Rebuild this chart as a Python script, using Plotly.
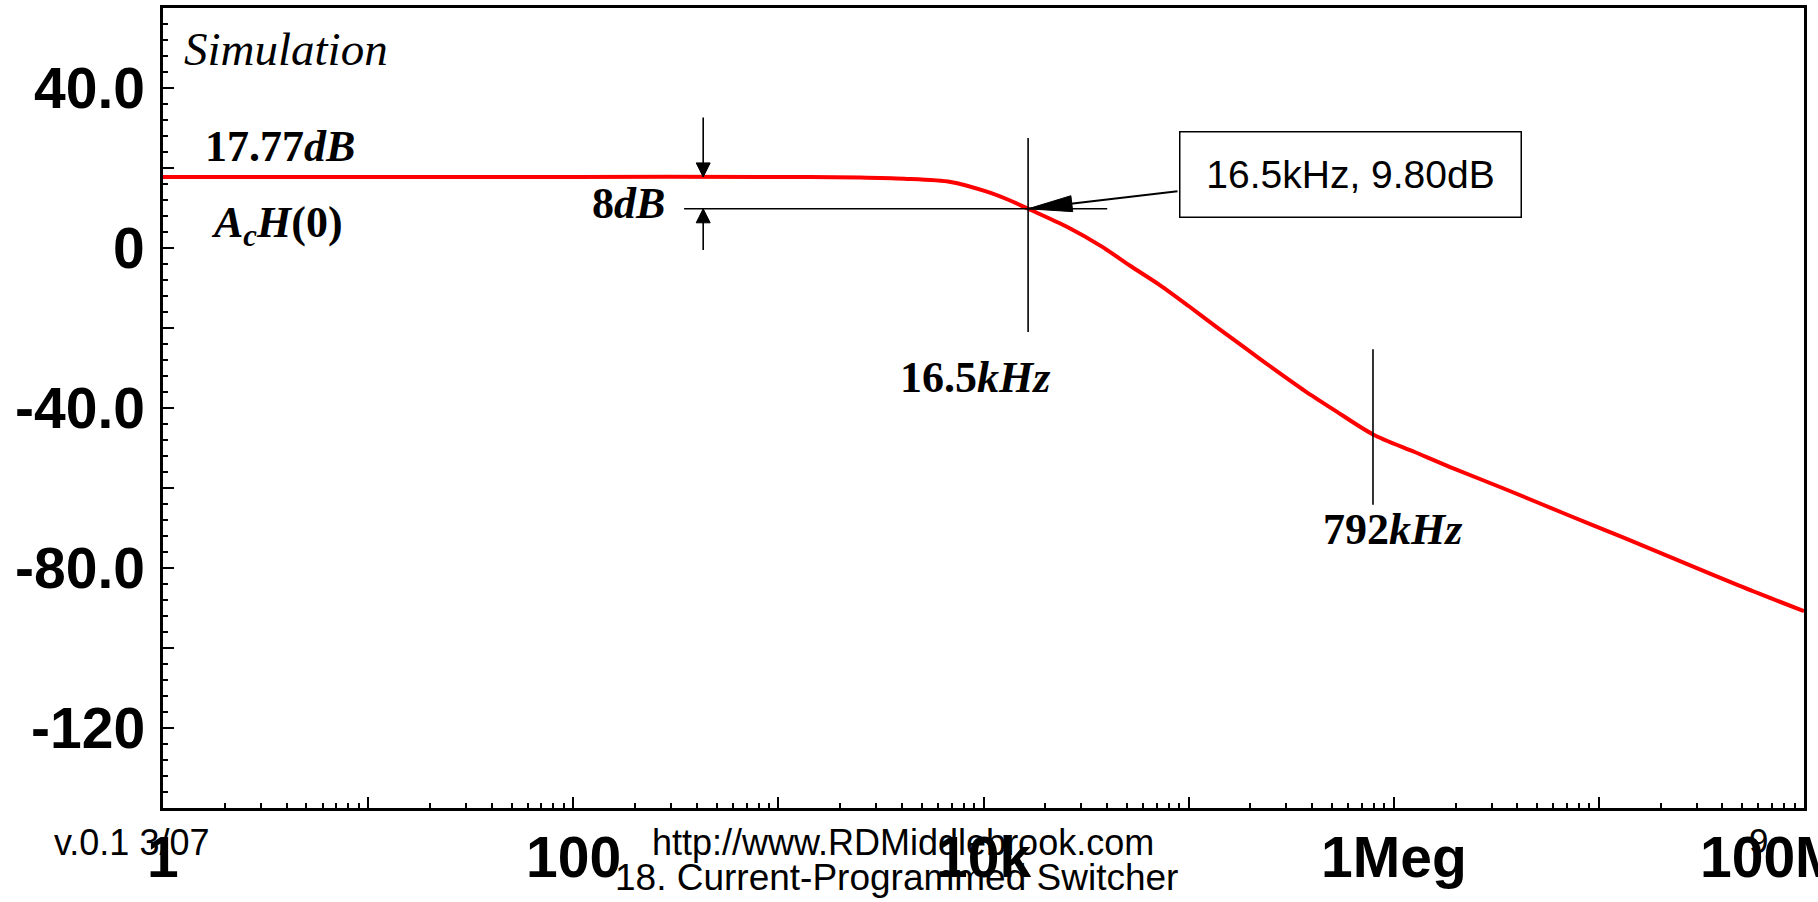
import math
import plotly.graph_objects as go

# ---- data: simulated loop-gain magnitude ----
freq_hz = [1, 10, 100, 1000, 2500, 4110, 6920, 10200, 13300, 16500,
           25500, 37600, 52100, 72100, 100000, 138000, 192000, 266000,
           368000, 509000, 792000, 1265000, 1870000, 3580000, 6870000,
           13200000, 25200000, 48300000, 100000000]
gain_db = [17.77, 17.77, 17.77, 17.77, 17.6, 17.3, 16.5, 14.2, 12.0, 9.80,
           5.3, 0.4, -4.5, -9.2, -14.5, -19.9, -25.3, -30.6,
           -35.7, -40.4, -46.6, -51.0, -54.7, -60.5, -66.5,
           -72.4, -78.4, -84.4, -90.8]

# ---- axis ticks ----
y_major = list(range(-140, 61, 20))
y_label_vals = [40, 0, -40, -80, -120]
y_label_text = ["40.0", "0", "-40.0", "-80.0", "-120"]
y_minor = list(range(-140, 61, 4))

x_major = [10 ** k for k in range(0, 9)]
x_label_vals = [1, 100, 10000, 1000000, 100000000]
x_label_text = ["1", "100", "10k", "1Meg", "100Meg"]
x_minor = [m * 10 ** k for k in range(0, 8) for m in range(2, 10)]

# ---- marked points ----
dc_gain_db = 17.77
f_cross = 16500
g_cross = 9.80
f_second = 792000
f_arrow = 430

W, H = 1818, 902
L, R, T, B = 163, 14, 8, 94
PW, PH = W - L - R, H - T - B


def px(x, y):
    """page pixel -> paper fraction"""
    return (x - L) / PW, (H - B - y) / PH


BLACK = "black"
SERIF = "Liberation Serif"
SANS = "Liberation Sans"

fig = go.Figure()
fig.add_trace(go.Scatter(
    x=freq_hz, y=gain_db, mode="lines",
    line=dict(color="#ff0000", width=4, shape="spline", smoothing=0.8),
    hoverinfo="skip", showlegend=False,
))

shapes = []
line_style = dict(color=BLACK, width=1.6)

# crosshair at the -8 dB point
shapes.append(dict(type="line", xref="x", yref="y", x0=f_cross, x1=f_cross,
                   y0=-21, y1=27.5, line=line_style))
shapes.append(dict(type="line", xref="x", yref="y", x0=347, x1=40100,
                   y0=g_cross, y1=g_cross, line=line_style))
# marker at the second corner
shapes.append(dict(type="line", xref="x", yref="y", x0=f_second, x1=f_second,
                   y0=-64.2, y1=-25.3, line=line_style))

# 8 dB dimension arrows
shapes.append(dict(type="line", xref="x", yref="y", x0=f_arrow, x1=f_arrow,
                   y0=32.6, y1=dc_gain_db, line=line_style))
shapes.append(dict(type="line", xref="x", yref="y", x0=f_arrow, x1=f_arrow,
                   y0=-0.5, y1=g_cross, line=line_style))


def head(xa, ya, dx, dy, length, half):
    """filled triangle with its tip at (xa, ya), opening toward (dx, dy) (pixels, y up)"""
    n = math.hypot(dx, dy)
    ux, uy = dx / n, dy / n
    qx, qy = -uy, ux
    bx, by = ux * length, uy * length
    p1 = (bx + qx * half, by + qy * half)
    p2 = (bx - qx * half, by - qy * half)
    path = f"M0,0 L{p1[0]:.2f},{p1[1]:.2f} L{p2[0]:.2f},{p2[1]:.2f} Z"
    return dict(type="path", xref="x", yref="y",
                xsizemode="pixel", ysizemode="pixel",
                xanchor=xa, yanchor=ya, path=path,
                fillcolor=BLACK, line=dict(color=BLACK, width=1))


shapes.append(head(f_arrow, dc_gain_db, 0, 1, 14, 7))
shapes.append(head(f_arrow, g_cross, 0, -1, 14, 7))

# leader from the callout box to the marked point
lead_dx, lead_dy = 149.4, 17.5
shapes.append(dict(type="line", xref="x", yref="y",
                   xsizemode="pixel", ysizemode="pixel",
                   xanchor=f_cross, yanchor=g_cross,
                   x0=0, y0=0, x1=lead_dx, y1=lead_dy,
                   line=dict(color=BLACK, width=2)))
shapes.append(head(f_cross, g_cross, lead_dx, lead_dy, 44, 8))

annotations = []


def text_at(x, y, text, size, family=SERIF, xanchor="center", color=BLACK,
            weight="normal"):
    xp, yp = px(x, y)
    annotations.append(dict(xref="paper", yref="paper", x=xp, y=yp,
                            text=text, showarrow=False, xanchor=xanchor,
                            yanchor="middle",
                            font=dict(family=family, size=size, color=color,
                                      weight=weight)))


# tick labels (bold sans)
tick_font = dict(family=SANS, size=57, color=BLACK, weight="bold")
_, y_lab = px(0, 857)
for v, t in zip(x_label_vals, x_label_text):
    annotations.append(dict(xref="x", yref="paper", x=math.log10(v), y=y_lab,
                            text=t, showarrow=False, xanchor="center",
                            yanchor="middle", font=tick_font))
x_lab, _ = px(147, 0)
for v, t in zip(y_label_vals, y_label_text):
    annotations.append(dict(xref="paper", yref="y", x=x_lab, y=v,
                            text=t, showarrow=False, xanchor="right",
                            yanchor="middle", font=tick_font))

text_at(286, 49, "<i>Simulation</i>", 47)
text_at(280, 146, "<b>17.77</b><b><i>dB</i></b>", 44)
text_at(277, 226, "<b><i>A</i></b><sub><b><i>c</i></b></sub><b><i>H</i>(0)</b>", 44)
text_at(628, 203, "<b>8</b><b><i>dB</i></b>", 44)
text_at(975, 377, "<b>16.5</b><b><i>kHz</i></b>", 44)
text_at(1392, 529, "<b>792</b><b><i>kHz</i></b>", 44)

# callout box
cx, cy = px(1350, 174)
annotations.append(dict(xref="paper", yref="paper", x=cx, y=cy,
                        text="16.5kHz, 9.80dB", showarrow=False,
                        xanchor="center", yanchor="middle",
                        width=338, height=82, align="center",
                        bgcolor="white", bordercolor=BLACK, borderwidth=1.5,
                        borderpad=1,
                        font=dict(family=SANS, size=39, color=BLACK)))

# footer
text_at(52, 842, "v.0.1 3/07", 36, family=SANS, xanchor="left")
text_at(903, 842, "http://www.RDMiddlebrook.com", 36, family=SANS)
text_at(896, 878, "18. Current-Programmed Switcher", 37, family=SANS)
text_at(1758, 840, "9", 35, family=SANS)

fig.update_layout(
    width=W, height=H,
    margin=dict(l=L, r=R, t=T, b=B, pad=0, autoexpand=False),
    paper_bgcolor="white", plot_bgcolor="white",
    showlegend=False,
    shapes=shapes, annotations=annotations,
    xaxis=dict(
        type="log", range=[0, 8], automargin=False,
        tickmode="array", tickvals=x_major, showticklabels=False,
        ticks="inside", ticklen=11, tickwidth=1.5, tickcolor=BLACK,
        minor=dict(tickmode="array", tickvals=x_minor, ticks="inside",
                   ticklen=5, tickwidth=1.5, tickcolor=BLACK, showgrid=False),
        showline=True, linewidth=3, linecolor=BLACK, mirror=True,
        showgrid=False, zeroline=False,
    ),
    yaxis=dict(
        range=[-140, 60], automargin=False,
        tickmode="array", tickvals=y_major, showticklabels=False,
        ticks="inside", ticklen=11, tickwidth=1.5, tickcolor=BLACK,
        minor=dict(tickmode="array", tickvals=y_minor, ticks="inside",
                   ticklen=5, tickwidth=1.5, tickcolor=BLACK, showgrid=False),
        showline=True, linewidth=3, linecolor=BLACK, mirror=True,
        showgrid=False, zeroline=False,
    ),
)

fig.write_html("out.html")
